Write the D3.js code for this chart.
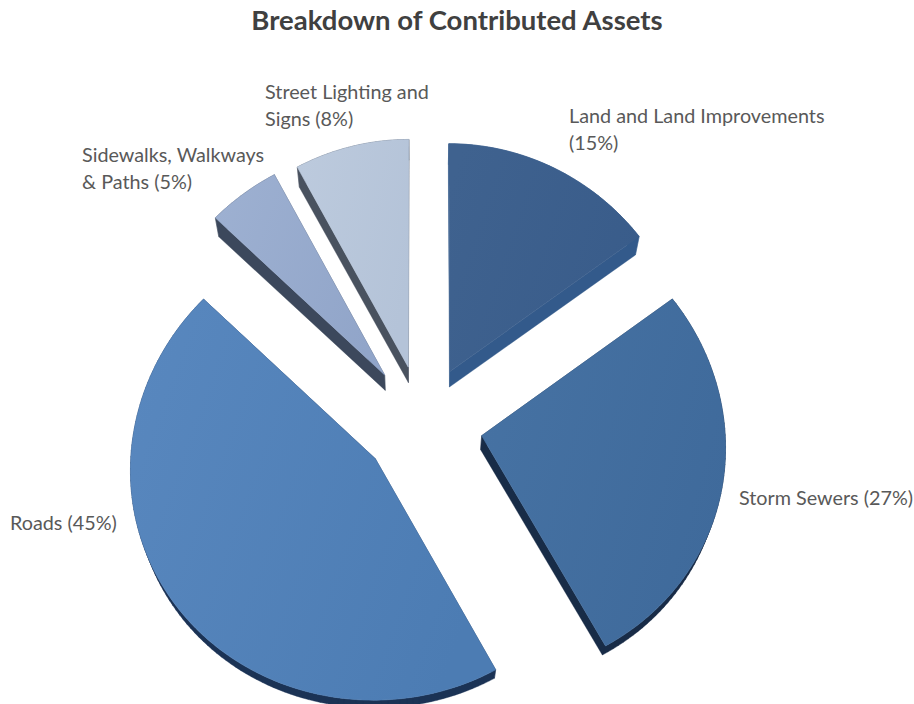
<!DOCTYPE html>
<html>
<head>
<meta charset="utf-8">
<script src="https://cdn.jsdelivr.net/npm/d3@7"></script>
<style>
  html, body { margin: 0; padding: 0; background: #fff; overflow: hidden; }
</style>
</head>
<body>
<div id="chart"></div>
<script>
// chart data
const categories = ["Land and Land Improvements", "Storm Sewers", "Roads", "Sidewalks, Walkways & Paths", "Street Lighting and Signs"];
const shares = [15, 27, 45, 5, 8];
const labelLines = [
    ["Land and Land Improvements", "(15%)"],
    ["Storm Sewers (27%)"],
    ["Roads (45%)"],
    ["Sidewalks, Walkways", "& Paths (5%)"],
    ["Street Lighting and", "Signs (8%)"]
];

// styling, one entry per slice
const topLeft = ["#3f628f", "#4672a3", "#5887be", "#9db0d1", "#bccadd"];
const topRight = ["#395c8a", "#3f6a9b", "#4c7cb3", "#91a5c9", "#b4c3d8"];
const sideColors = ["#335a8b", "#182c47", "#1b3355", "#3c485c", "#49525f"];
const explodes = [58, 58, 58, 61, 58];
const labelPos = [[569, 123], [739, 505], [10, 530], [82, 162], [265, 99]];

const width = 914, height = 704;
const cx = 423, cy = 423, radius = 235;

const svg = d3.select("#chart")
    .append("svg")
    .attr("width", width)
    .attr("height", height)
    .style("display", "block");

svg.append("text")
    .attr("x", 457)
    .attr("y", 30)
    .attr("text-anchor", "middle")
    .style("font", "bold 27.5px Lato, sans-serif")
    .attr("fill", "#404040")
    .text("Breakdown of Contributed Assets");

const pie = d3.pie().sort(null).value(d => d)(shares);

// slightly tilted view: wider and stretched towards the bottom of the picture
function project(X, Y) {
    return [cx + X * 1.034 * (1 + 0.00018 * Y), cy + Y + 0.00009 * Y * Y];
}

// how far the lower face sits from a point on the top face
function extrude(p) {
    return [p[0] - 0.017 * (p[0] - 420), p[1] + 24 - 0.023 * p[1]];
}

function outline(d, i) {
    const mid = (d.startAngle + d.endAngle) / 2;
    const ox = explodes[i] * Math.sin(mid), oy = -explodes[i] * Math.cos(mid);
    const steps = Math.ceil((d.endAngle - d.startAngle) * 40);
    const angle = d3.scaleLinear().domain([0, steps]).range([d.startAngle, d.endAngle]);
    const pts = [project(ox, oy)];
    d3.range(steps + 1).forEach(j => {
        const a = angle(j);
        pts.push(project(ox + radius * Math.sin(a), oy - radius * Math.cos(a)));
    });
    return pts;
}

const line = d3.line().curve(d3.curveLinearClosed);
const defs = svg.append("defs");

pie.forEach((d, i) => {
    const grad = defs.append("linearGradient")
        .attr("id", "slice" + i)
        .attr("x1", 0).attr("y1", 0.2)
        .attr("x2", 1).attr("y2", 0.6);
    grad.append("stop").attr("offset", 0).attr("stop-color", topLeft[i]);
    grad.append("stop").attr("offset", 1).attr("stop-color", topRight[i]);
});

const slices = svg.append("g")
    .selectAll("g")
    .data(pie)
    .join("g");

slices.each(function (d, i) {
    const g = d3.select(this);
    const pts = outline(d, i);
    // side walls, one quad per outline edge, all wound the same way so they merge in one path
    const quads = pts.map((p, j) => {
        const q = pts[(j + 1) % pts.length];
        const quad = [p, q, extrude(q), extrude(p)];
        return d3.polygonArea(quad) < 0 ? quad.reverse() : quad;
    });
    g.append("path")
        .attr("d", quads.map(q => line(q)).join(""))
        .attr("fill", sideColors[i])
        .attr("stroke", sideColors[i])
        .attr("stroke-width", 0.4);
    g.append("path")
        .attr("d", line(pts))
        .attr("fill", "url(#slice" + i + ")")
        .attr("stroke", "url(#slice" + i + ")")
        .attr("stroke-width", 0.6);
});

const labels = svg.append("g")
    .style("font", "19.8px Lato, sans-serif")
    .attr("fill", "#595959")
    .selectAll("text")
    .data(labelLines)
    .join("text")
    .attr("x", (d, i) => labelPos[i][0])
    .attr("y", (d, i) => labelPos[i][1]);

labels.selectAll("tspan")
    .data(d => d)
    .join("tspan")
    .attr("x", function () { return d3.select(this.parentNode).attr("x"); })
    .attr("dy", (d, i) => i ? 27 : 0)
    .text(d => d);
</script>
</body>
</html>
